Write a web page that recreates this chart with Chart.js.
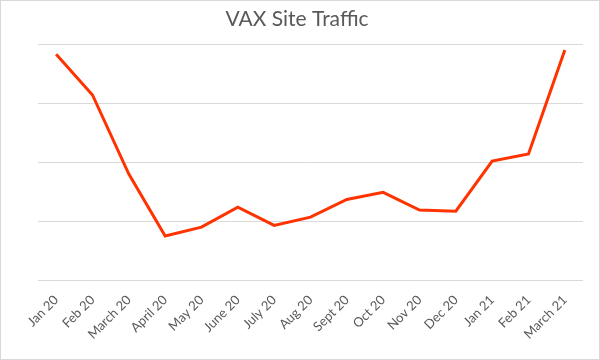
<!DOCTYPE html>
<html>
<head>
<meta charset="utf-8">
<script src="https://cdn.jsdelivr.net/npm/chart.js@4"></script>
<style>
    body { margin: 0; background: #fff; }
    #wrap { width: 598px; height: 358px; border: 1px solid #d9d9d9; background: #fff; }
</style>
</head>
<body>
<div id="wrap"><canvas id="traffic"></canvas></div>
<script>
const months = [
    'Jan 20', 'Feb 20', 'March 20', 'April 20', 'May 20', 'June 20', 'July 20',
    'Aug 20', 'Sept 20', 'Oct 20', 'Nov 20', 'Dec 20', 'Jan 21', 'Feb 21', 'March 21'
];
const visits = [3.83, 3.14, 1.80, 0.75, 0.90, 1.24, 0.93, 1.07, 1.37, 1.49, 1.19, 1.17, 2.02, 2.14, 3.90];
const gridTicks = [0, 1, 2, 3, 4];

const textGrey = '#595959';

const trafficChart = new Chart(document.getElementById('traffic'), {
    type: 'line',
    data: {
        labels: months,
        datasets: [{
            label: 'VAX Site Traffic',
            data: visits,
            borderColor: '#FF3300',
            borderWidth: 3,
            pointRadius: 0,
            tension: 0,
            fill: false
        }]
    },
    options: {
        responsive: true,
        maintainAspectRatio: false,
        animation: false,
        layout: {
            padding: { left: 0, right: 6, top: 6, bottom: 13 }
        },
        plugins: {
            legend: { display: false },
            tooltip: { enabled: false },
            title: {
                display: true,
                text: 'VAX Site Traffic',
                color: textGrey,
                font: { family: 'Lato', size: 21, weight: 'normal' },
                padding: { top: 0, bottom: 12 }
            }
        },
        scales: {
            x: {
                offset: true,
                grid: { display: false },
                border: { display: false },
                ticks: {
                    color: textGrey,
                    font: { family: 'Lato', size: 13 },
                    minRotation: 45,
                    maxRotation: 45,
                    autoSkip: false,
                    padding: 4
                }
            },
            y: {
                min: 0,
                max: 4,
                afterBuildTicks: axis => {
                    axis.ticks = gridTicks.map(v => ({ value: v }));
                },
                afterFit: axis => { axis.width = 37; },
                grid: { color: '#d9d9d9', lineWidth: 1, drawTicks: false },
                border: { display: false },
                ticks: { display: false }
            },
            // empty right-hand gutter so the plot stops short of the frame
            gutter: {
                type: 'linear',
                position: 'right',
                afterFit: axis => { axis.width = 10; },
                grid: { display: false },
                border: { display: false },
                ticks: { display: false }
            }
        }
    }
});
</script>
</body>
</html>
